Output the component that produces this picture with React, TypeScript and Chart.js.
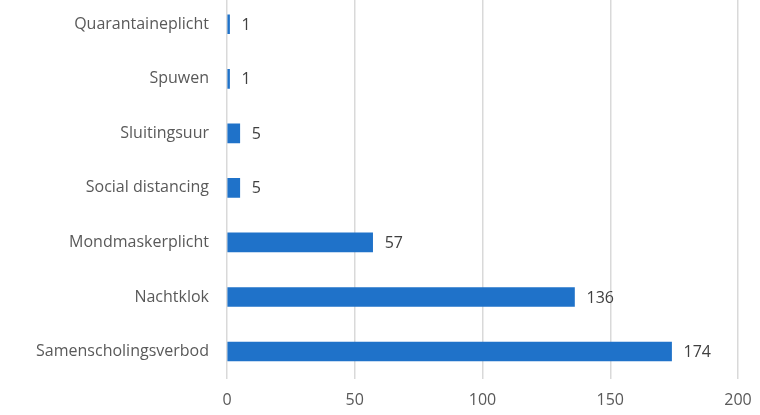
import React, { useEffect, useRef } from "react";
import { Chart, registerables } from "chart.js";

Chart.register(...registerables);

const categories = [
  "Quarantaineplicht",
  "Spuwen",
  "Sluitingsuur",
  "Social distancing",
  "Mondmaskerplicht",
  "Nachtklok",
  "Samenscholingsverbod",
];
const values = [1, 1, 5, 5, 57, 136, 174];
const xTicks = [0, 50, 100, 150, 200];

const FONT = "'Open Sans', 'Noto Sans', sans-serif";

const labelPlugin = {
  id: "valueLabels",
  afterDatasetsDraw(chart: any) {
    const ctx = chart.ctx;
    const meta = chart.getDatasetMeta(0);
    ctx.save();
    ctx.fillStyle = "#404040";
    ctx.font = `16px ${FONT}`;
    ctx.textAlign = "left";
    ctx.textBaseline = "middle";
    meta.data.forEach((bar: any, i: number) => {
      ctx.fillText(String(values[i]), bar.x + 12, bar.y + 1);
    });
    ctx.restore();
  },
};

export default function App() {
  const ref = useRef<HTMLCanvasElement>(null);
  useEffect(() => {
    if (!ref.current) return;
    const chart = new Chart(ref.current, {
      type: "bar",
      data: {
        labels: categories,
        datasets: [
          {
            data: values,
            backgroundColor: "#1f72c9",
            borderWidth: 0,
            barThickness: 19,
          },
        ],
      },
      options: {
        indexAxis: "y",
        animation: false,
        responsive: false,
        maintainAspectRatio: false,
        layout: { padding: { left: 0, right: 22, top: 0, bottom: 0 } },
        plugins: {
          legend: { display: false },
          tooltip: { enabled: false },
        },
        scales: {
          x: {
            min: 0,
            max: 200,
            afterBuildTicks: (axis: any) => {
              axis.ticks = xTicks.map((v) => ({ value: v }));
            },
            afterFit: (s: any) => {
              s.paddingLeft = 0;
              s.paddingRight = 0;
            },
            grid: { color: "#d9d9d9", lineWidth: 1.5, drawTicks: false },
            border: { display: false },
            ticks: {
              color: "#595959",
              font: { family: FONT, size: 16 },
              padding: 12,
            },
          },
          y: {
            afterFit: (s: any) => {
              s.width = 227;
              s.paddingTop = 0;
              s.paddingBottom = 0;
            },
            grid: { display: false, drawTicks: false },
            border: { display: false },
            ticks: {
              color: "#595959",
              font: { family: FONT, size: 16 },
              padding: 18,
            },
          },
        },
      },
      plugins: [labelPlugin],
    });
    return () => chart.destroy();
  }, []);
  return (
    <div style={{ position: "absolute", left: 0, top: -3, width: 760, height: 425 }}>
      <canvas ref={ref} width={760} height={425} style={{ width: 760, height: 425 }} />
    </div>
  );
}
